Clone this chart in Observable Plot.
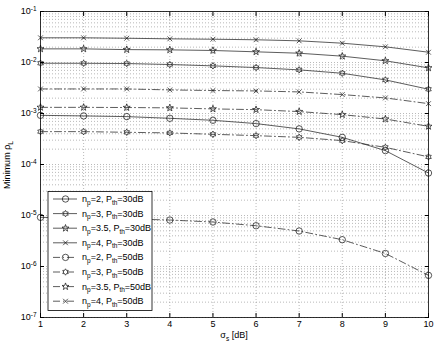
<!DOCTYPE html>
<html><head><meta charset="utf-8">
<script src="https://cdn.jsdelivr.net/npm/d3@7"></script>
<script src="https://cdn.jsdelivr.net/npm/@observablehq/plot@0.6"></script>
<style>body{margin:0;background:#fff}</style>
</head><body><div id="chart"></div>
<script>
const sigma = [1, 2, 3, 4, 5, 6, 7, 8, 9, 10];
const np2_30  = [9.2e-4, 8.97e-4, 8.69e-4, 8.05e-4, 7.36e-4, 6.34e-4, 4.99e-4, 3.41e-4, 1.87e-4, 6.8e-5];
const np3_30  = [9.68e-3, 9.65e-3, 9.55e-3, 9.13e-3, 8.59e-3, 7.96e-3, 7.17e-3, 6.15e-3, 4.56e-3, 2.99e-3];
const np35_30 = [1.85e-2, 1.85e-2, 1.79e-2, 1.77e-2, 1.72e-2, 1.62e-2, 1.52e-2, 1.33e-2, 1.08e-2, 7.85e-3];
const np4_30  = [3.05e-2, 3.05e-2, 2.99e-2, 2.91e-2, 2.86e-2, 2.79e-2, 2.66e-2, 2.39e-2, 2.03e-2, 1.59e-2];
const np2_50  = [9.2e-6, 8.9e-6, 8.6e-6, 8.15e-6, 7.45e-6, 6.3e-6, 4.96e-6, 3.35e-6, 1.8e-6, 6.7e-7];
const np3_50  = [4.41e-4, 4.41e-4, 4.28e-4, 4.16e-4, 3.91e-4, 3.68e-4, 3.41e-4, 2.94e-4, 2.17e-4, 1.41e-4];
const np35_50 = [1.32e-3, 1.32e-3, 1.31e-3, 1.29e-3, 1.23e-3, 1.19e-3, 1.09e-3, 9.5e-4, 7.8e-4, 5.6e-4];
const np4_50  = [3.03e-3, 3.03e-3, 3.03e-3, 2.9e-3, 2.82e-3, 2.77e-3, 2.65e-3, 2.35e-3, 2.02e-3, 1.56e-3];

const npLabels = ["2", "3", "3.5", "4", "2", "3", "3.5", "4"];
const pthLabels = ["30", "30", "30", "30", "50", "50", "50", "50"];
const seriesValues = [np2_30, np3_30, np35_30, np4_30, np2_50, np3_50, np35_50, np4_50];
const xTicks = [1, 2, 3, 4, 5, 6, 7, 8, 9, 10];
const yExponents = [-7, -6, -5, -4, -3, -2, -1];

// symbols
function star(points, ratio, scale) {
  return {draw(ctx, size) {
    const r = Math.sqrt(size / Math.PI) * scale, ri = r * ratio;
    for (let i = 0; i < points * 2; i++) {
      const a = i * Math.PI / points - Math.PI / 2, rr = i % 2 ? ri : r;
      const x = rr * Math.cos(a), y = rr * Math.sin(a);
      i ? ctx.lineTo(x, y) : ctx.moveTo(x, y);
    }
    ctx.closePath();
  }};
}
const hexagram = star(6, 0.577, 1.0);
const pentagram = star(5, 0.4, 1.15);
const timesSym = {draw(ctx, size) {
  const r = Math.sqrt(size / Math.PI) * 0.75;
  ctx.moveTo(-r, -r); ctx.lineTo(r, r); ctx.moveTo(r, -r); ctx.lineTo(-r, r);
}};
const symbolFor = {"2": "circle", "3": hexagram, "3.5": pentagram, "4": timesSym};
const dashFor = {"30": null, "50": "7,3,1,3"};

const yGrid = [];
yExponents.slice(0, -1).forEach(e => { for (let m = 1; m <= 9; m++) yGrid.push(m * Math.pow(10, e)); });
yGrid.push(0.1);
const yMajor = yExponents.map(e => Math.pow(10, e));

const marks = [
  Plot.ruleY(yGrid, {stroke: "#8a8a8a", strokeWidth: 0.6, strokeDasharray: "1,2"}),
  Plot.ruleX(xTicks.slice(1, -1), {stroke: "#8a8a8a", strokeWidth: 0.6, strokeDasharray: "1,2"}),
];
seriesValues.forEach((vals, i) => {
  const rows = sigma.map((s, j) => ({s, v: vals[j]}));
  const dash = dashFor[pthLabels[i]];
  marks.push(Plot.line(rows, {x: "s", y: "v", stroke: "#333", strokeWidth: 0.8, strokeDasharray: dash || undefined}));
  marks.push(Plot.dot(rows, {x: "s", y: "v", symbol: symbolFor[npLabels[i]], r: 3.2, stroke: "#111", strokeWidth: 0.7, fill: "none"}));
});
marks.push(
  Plot.axisX({ticks: xTicks, tickSize: -4, tickPadding: 7, tickFormat: d => String(d), label: null, fontSize: 9}),
  Plot.axisX({anchor: "top", ticks: xTicks, tickSize: -4, tickFormat: () => "", label: null}),
  Plot.axisY({ticks: yMajor, tickSize: -4, tickPadding: 8, tickFormat: d => "e" + Math.round(Math.log10(d)), label: null, fontSize: 9}),
  Plot.axisY({anchor: "right", ticks: yMajor, tickSize: -4, tickFormat: () => "", label: null}),
  Plot.frame({stroke: "#000", strokeWidth: 0.8})
);

const svg = Plot.plot({
  width: 436, height: 346,
  marginLeft: 40, marginRight: 8, marginTop: 11, marginBottom: 29,
  style: {fontFamily: "Liberation Sans, Arial, sans-serif", fontSize: "9px", color: "#000", background: "#fff"},
  x: {domain: [1, 10]},
  y: {type: "log", domain: [1e-7, 1e-1]},
  marks
});
document.getElementById("chart").appendChild(svg);

// y tick labels as 10^n with superscript
d3.select(svg).selectAll('g[aria-label="y-axis tick label"] text').each(function() {
  const t = d3.select(this);
  const txt = t.text();
  if (!txt.startsWith("e")) return;
  const exp = txt.slice(1);
  t.text("10");
  t.append("tspan").attr("dy", "-0.45em").attr("font-size", "6.5px").text(exp);
});

const font = "Liberation Sans, Arial, sans-serif";
const S = d3.select(svg);
// axis labels
const yl = S.append("text").attr("transform", "translate(10,165) rotate(-90)")
  .attr("text-anchor", "middle").attr("font-family", font).attr("font-size", "9px");
yl.append("tspan").text("Minimum \u03C1");
yl.append("tspan").attr("dy", "2.5").attr("font-size", "6.5px").text("L");
const xl = S.append("text").attr("x", 234).attr("y", 338)
  .attr("text-anchor", "middle").attr("font-family", font).attr("font-size", "9px");
xl.append("tspan").text("\u03C3");
xl.append("tspan").attr("dy", "2.5").attr("font-size", "6.5px").text("s");
xl.append("tspan").attr("dy", "-2.5").text(" [dB]");

// legend
const lg = S.append("g");
lg.append("rect").attr("x", 48).attr("y", 191.5).attr("width", 104).attr("height", 119)
  .attr("fill", "#fff").attr("stroke", "#000").attr("stroke-width", 0.8);
npLabels.forEach((np, i) => {
  const y = 199 + i * 14.6;
  const dash = dashFor[pthLabels[i]];
  lg.append("line").attr("x1", 53).attr("x2", 77).attr("y1", y).attr("y2", y)
    .attr("stroke", "#333").attr("stroke-width", 0.8).attr("stroke-dasharray", dash);
  const sym = symbolFor[np] === "circle" ? d3.symbolCircle : symbolFor[np];
  lg.append("path").attr("transform", `translate(65.5,${y})`)
    .attr("d", d3.symbol(sym, Math.PI * 3.2 * 3.2)())
    .attr("fill", "none").attr("stroke", "#111").attr("stroke-width", 0.7);
  const t = lg.append("text").attr("x", 82).attr("y", y + 3).attr("text-anchor", "start")
    .attr("font-family", font).attr("font-size", "9px");
  t.append("tspan").text("n");
  t.append("tspan").attr("dy", 2.5).attr("font-size", "6.5px").text("p");
  t.append("tspan").attr("dy", -2.5).text(`=${np}, P`);
  t.append("tspan").attr("dy", 2.5).attr("font-size", "6.5px").text("th");
  t.append("tspan").attr("dy", -2.5).text(`=${pthLabels[i]}dB`);
});
</script></body></html>
